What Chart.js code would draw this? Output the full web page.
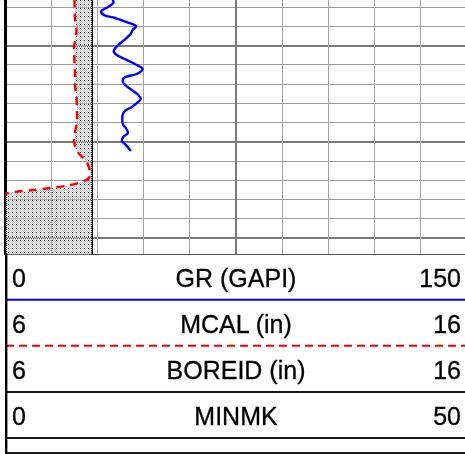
<!DOCTYPE html>
<html>
<head>
<meta charset="utf-8">
<script src="https://cdn.jsdelivr.net/npm/chart.js"></script>
<style>
  html, body { margin: 0; padding: 0; overflow: hidden; background: #fff; }
  #track { position: absolute; left: 0; top: 0; }
  #hdr { position: absolute; left: 0; top: 0; width: 472px; height: 454px; pointer-events: none; }
  .lbl { position: absolute; font: 25px "Liberation Sans", Arial, sans-serif; line-height: 25px; white-space: nowrap; color: #000; -webkit-text-stroke: 0.3px #000; }
</style>
</head>
<body>
<canvas id="track" width="472" height="255"></canvas>
<svg id="hdr" width="472" height="454"></svg>
<div id="labels"></div>
<script>
// depth in track units (one minor grid line per unit)
const grDepth = [7.6, 7.78, 7.99, 8.22, 8.41, 8.56, 8.77, 8.98, 9.18, 9.39, 9.70, 9.96, 10.28, 10.48,
  10.74, 11.00, 11.21, 11.47, 11.63, 11.83, 12.04, 12.30, 12.56, 12.77, 12.98, 13.18, 13.39,
  13.60, 13.86, 14.12, 14.28, 14.54, 14.74, 14.95, 15.11, 15.31, 15.47];
const grValues = [34.9, 35.1, 33.4, 31.1, 32.1, 35.6, 39.4, 42.5, 41.4, 40.7, 38.7, 36.7, 35.2, 36.2,
  39.4, 42.7, 44.6, 42.7, 38.9, 38.1, 38.9, 41.1, 43.2, 44.0, 42.7, 41.1, 38.9,
  38.1, 38.0, 38.3, 39.2, 39.8, 38.3, 37.9, 38.9, 40.0, 40.8];

const mcalDepth = [7.6, 8.15, 8.67, 9.18, 9.60, 10.02, 10.43, 11.00, 11.52, 12.09, 12.72, 13.34, 13.96,
  14.48, 15.00, 15.42, 15.68, 15.94, 16.25, 16.56, 16.82, 16.98, 17.13, 17.29, 17.39, 17.50,
  17.57, 17.63, 17.68, 17.76, 17.9, 20.9];
const mcalValues = [7.50, 7.50, 7.51, 7.54, 7.52, 7.49, 7.49, 7.50, 7.51, 7.51, 7.54, 7.55, 7.55,
  7.51, 7.49, 7.54, 7.62, 7.73, 7.80, 7.83, 7.82, 7.75, 7.59, 7.29, 6.97, 6.60,
  6.27, 6.14, 5.99, 5.77, 5.6, 5.5];

const boreidDepth = [7.6, 20.9];
const boreidValues = [7.875, 7.875];

const depthTop = 7.626;
const depthBottom = 20.847;

const curveNames = ["GR (GAPI)", "MCAL (in)", "BOREID (in)", "MINMK"];
const curveMin = ["0", "6", "6", "0"];
const curveMax = ["150", "16", "16", "50"];

const toPoints = (vals, depths) => vals.map((v, i) => ({ x: v, y: depths[i] }));

// stipple pattern for the caliper fill
const tile = document.createElement("canvas");
tile.width = 4; tile.height = 4;
const tctx = tile.getContext("2d");
for (let i = 0; i < 4; i++) {
  for (let j = 0; j < 4; j++) {
    if ((i + j) % 2 !== 0) continue;
    tctx.fillStyle = i === 0 && j === 0 ? "#1a1a1a" : "#c2c2c2";
    tctx.fillRect(i, j, 1, 1);
  }
}
const ctx = document.getElementById("track");
const stipple = ctx.getContext("2d").createPattern(tile, "repeat");

new Chart(ctx, {
  type: "line",
  data: {
    datasets: [
      {
        label: "GR",
        data: toPoints(grValues, grDepth),
        xAxisID: "xGR",
        yAxisID: "y",
        borderColor: "#0000ff",
        borderWidth: 2.4,
        tension: 0.35,
        fill: false,
      },
      {
        label: "MCAL",
        data: toPoints(mcalValues, mcalDepth),
        xAxisID: "xCal",
        yAxisID: "y",
        borderColor: "#ff0000",
        borderWidth: 2.5,
        borderDash: [8, 6],
        tension: 0.3,
        fill: "+1",
        backgroundColor: stipple,
      },
      {
        label: "BOREID",
        data: toPoints(boreidValues, boreidDepth),
        xAxisID: "xCal",
        yAxisID: "y",
        borderColor: "#000",
        borderWidth: 2,
        fill: false,
      },
    ],
  },
  options: {
    responsive: false,
    animation: false,
    indexAxis: "y",
    layout: { padding: { left: 5.5, right: 5.5, top: 0, bottom: 0.5 }, autoPadding: false },
    elements: { point: { radius: 0 } },
    plugins: { legend: { display: false }, tooltip: { enabled: false } },
    scales: {
      y: {
        type: "linear",
        reverse: true,
        min: depthTop,
        max: depthBottom,
        ticks: { display: false, stepSize: 1, includeBounds: false },
        grid: {
          drawTicks: false,
          color: (c) => (c.tick.value % 5 === 0 ? "#7a7a7a" : "#9c9c9c"),
          lineWidth: (c) => (c.tick.value % 5 === 0 ? 2 : 1),
        },
        border: { color: "#000", width: 3 },
      },
      xGR: {
        type: "linear",
        axis: "x",
        position: "bottom",
        min: 0,
        max: 150,
        ticks: { display: false, stepSize: 15, includeBounds: false },
        grid: {
          drawTicks: false,
          color: (c) => (c.tick.value === 0 ? "rgba(0,0,0,0)" : c.tick.value === 75 ? "#7a7a7a" : "#a4a4a4"),
          lineWidth: (c) => (c.tick.value === 75 ? 2 : 1),
        },
        border: { color: "#555", width: 2 },
      },
      xCal: {
        type: "linear",
        axis: "x",
        position: "bottom",
        display: false,
        min: 6,
        max: 16,
      },
    },
  },
});

// header: curve names with scale ends and curve line styles
const svgNS = "http://www.w3.org/2000/svg";
const svg = document.getElementById("hdr");
function hline(y, color, dash) {
  const l = document.createElementNS(svgNS, "line");
  l.setAttribute("x1", 6); l.setAttribute("x2", 472);
  l.setAttribute("y1", y); l.setAttribute("y2", y);
  l.setAttribute("stroke", color); l.setAttribute("stroke-width", 2);
  if (dash) l.setAttribute("stroke-dasharray", dash);
  svg.appendChild(l);
}
hline(299.7, "#0000ff");
hline(345.8, "#ff0000", "8 5");
hline(391.9, "#1a1a1a");
hline(437.9, "#1a1a1a");
hline(453, "#1a1a1a");
const lb = document.createElementNS(svgNS, "line");
lb.setAttribute("x1", 6.2); lb.setAttribute("x2", 6.2);
lb.setAttribute("y1", 254); lb.setAttribute("y2", 454);
lb.setAttribute("stroke", "#000"); lb.setAttribute("stroke-width", 2.4);
svg.appendChild(lb);

const baselines = [287.5, 333, 378.7, 424.7];
const labels = document.getElementById("labels");
curveNames.forEach((name, i) => {
  const top = baselines[i] - 21.2;
  const mk = (text, style) => {
    const s = document.createElement("div");
    s.className = "lbl";
    s.textContent = text;
    s.style.cssText += "top:" + top + "px;" + style;
    labels.appendChild(s);
  };
  mk(curveMin[i], "left:12px;");
  mk(name, "left:0;width:472px;text-align:center;");
  mk(curveMax[i], "left:0;width:461px;text-align:right;");
});
</script>
</body>
</html>
